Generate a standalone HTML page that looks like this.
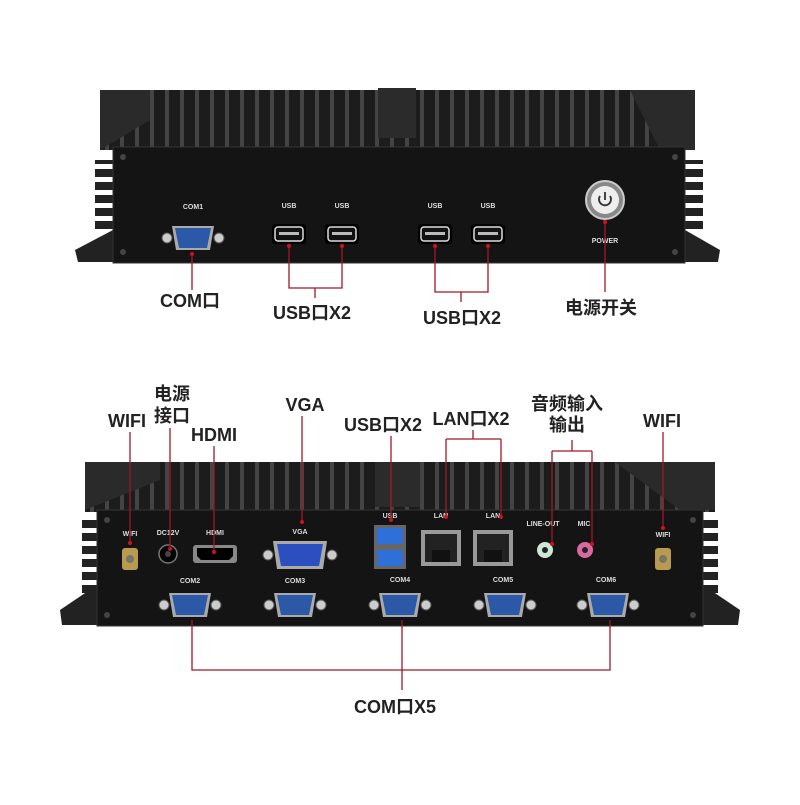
<!DOCTYPE html>
<html><head><meta charset="utf-8"><style>
body{margin:0;background:#fff;}
svg text{font-family:"Liberation Sans","Noto Sans CJK SC",sans-serif;}
.lb{font-size:18px;font-weight:bold;fill:#222;text-anchor:middle;}
.sm{font-size:7px;font-weight:bold;fill:#ddd;text-anchor:middle;}
.r{stroke:#a01828;stroke-width:1.3;fill:none;}
.d{fill:#d01020;}
</style></head><body>
<svg width="800" height="800" viewBox="0 0 800 800" xmlns="http://www.w3.org/2000/svg">
<defs>
<pattern id="fin" width="15" height="60" patternUnits="userSpaceOnUse">
<rect width="15" height="60" fill="#1c1c1c"/><rect x="0" width="4" height="60" fill="#444"/>
</pattern>
<pattern id="sfin" width="20" height="13" patternUnits="userSpaceOnUse">
<rect width="20" height="13" fill="#fff"/><rect y="0" width="20" height="8" fill="#222"/>
</pattern>
<g id="db9">
<circle cx="-26" cy="0" r="5" fill="#ccc" stroke="#555"/><circle cx="26" cy="0" r="5" fill="#ccc" stroke="#555"/>
<path d="M-21,-12 H21 L17,12 H-17 Z" fill="#aaa"/>
<path d="M-18,-10 H18 L14,10 H-14 Z" fill="#2c58a8"/>
</g>
<g id="usb"><rect x="-17" y="-10" width="34" height="20" rx="3" fill="#000"/><rect x="-14" y="-7" width="28" height="14" rx="3" fill="#111" stroke="#ddd" stroke-width="1.5"/><rect x="-10" y="-2" width="20" height="3" fill="#bbb"/></g>
</defs>

<!-- TOP DEVICE -->
<rect x="95" y="160" width="18" height="70" fill="url(#sfin)"/>
<rect x="685" y="160" width="18" height="70" fill="url(#sfin)"/>
<path d="M75,250 L113,230 L113,262 L78,262 Z" fill="#222"/>
<path d="M720,250 L685,230 L685,262 L718,262 Z" fill="#222"/>
<rect x="100" y="90" width="595" height="60" fill="url(#fin)"/>
<path d="M100,90 L150,90 L150,120 L100,150Z" fill="#2a2a2a"/>
<path d="M630,90 L695,90 L695,150 L660,150Z" fill="#2a2a2a"/>
<rect x="378" y="88" width="38" height="50" fill="#2b2b2b"/>
<rect x="113" y="147" width="572" height="116" fill="#141414" stroke="#333"/>
<circle cx="123" cy="157" r="3" fill="#444"/><circle cx="675" cy="157" r="3" fill="#444"/>
<circle cx="123" cy="252" r="3" fill="#444"/><circle cx="675" cy="252" r="3" fill="#444"/>
<text class="sm" x="193" y="209">COM1</text>
<use href="#db9" x="193" y="238"/>
<text class="sm" x="289" y="208">USB</text><text class="sm" x="342" y="208">USB</text>
<text class="sm" x="435" y="208">USB</text><text class="sm" x="488" y="208">USB</text>
<use href="#usb" x="289" y="234"/><use href="#usb" x="342" y="234"/>
<use href="#usb" x="435" y="234"/><use href="#usb" x="488" y="234"/>
<circle cx="605" cy="200" r="19" fill="#888" stroke="#ccc" stroke-width="2"/>
<circle cx="605" cy="200" r="14" fill="#eee"/>
<path d="M600,196 A6,6 0 1 0 610,196" stroke="#333" stroke-width="1.8" fill="none"/><line x1="605" y1="192" x2="605" y2="200" stroke="#333" stroke-width="1.8"/>
<text class="sm" x="605" y="243">POWER</text>
<!-- top lines -->
<path class="r" d="M192,254 V290"/>
<path class="r" d="M289,246 V288 H342 V246 M315,288 V298"/>
<path class="r" d="M435,246 V292 H488 V246 M461,292 V302"/>
<path class="r" d="M605,220 V292"/>
<circle class="d" cx="192" cy="254" r="2"/><circle class="d" cx="289" cy="246" r="2"/><circle class="d" cx="342" cy="246" r="2"/>
<circle class="d" cx="435" cy="246" r="2"/><circle class="d" cx="488" cy="246" r="2"/><circle class="d" cx="605" cy="222" r="2"/>
<text class="lb" x="190" y="307">COM口</text>
<text class="lb" x="312" y="319">USB口X2</text>
<text class="lb" x="462" y="324">USB口X2</text>
<text class="lb" x="601" y="314">电源开关</text>

<!-- BOTTOM DEVICE -->
<rect x="82" y="520" width="18" height="80" fill="url(#sfin)"/>
<rect x="700" y="520" width="18" height="80" fill="url(#sfin)"/>
<path d="M60,610 L97,585 L97,625 L62,625 Z" fill="#222"/>
<path d="M740,610 L703,585 L703,625 L738,625 Z" fill="#222"/>
<rect x="85" y="462" width="630" height="50" fill="url(#fin)"/>
<path d="M85,462 L160,462 L160,480 L85,510Z" fill="#2a2a2a"/>
<path d="M615,462 L715,462 L715,510 L680,510Z" fill="#2a2a2a"/>
<rect x="375" y="462" width="45" height="45" fill="#2b2b2b"/>
<rect x="97" y="510" width="606" height="116" fill="#141414" stroke="#333"/>
<circle cx="107" cy="520" r="3" fill="#444"/><circle cx="693" cy="520" r="3" fill="#444"/>
<circle cx="107" cy="615" r="3" fill="#444"/><circle cx="693" cy="615" r="3" fill="#444"/>
<text class="sm" x="130" y="536">WIFI</text><text class="sm" x="168" y="535">DC12V</text>
<text class="sm" x="215" y="535">HDMI</text><text class="sm" x="300" y="534">VGA</text>
<text class="sm" x="390" y="518">USB</text><text class="sm" x="441" y="518">LAN</text><text class="sm" x="493" y="518">LAN</text>
<text class="sm" x="543" y="526">LINE-OUT</text><text class="sm" x="584" y="526">MIC</text><text class="sm" x="663" y="537">WIFI</text>
<rect x="122" y="548" width="16" height="22" rx="3" fill="#b89a50"/><circle cx="130" cy="559" r="4" fill="#776"/>
<rect x="655" y="548" width="16" height="22" rx="3" fill="#b89a50"/><circle cx="663" cy="559" r="4" fill="#776"/>
<circle cx="168" cy="554" r="9" fill="#000" stroke="#777" stroke-width="1.5"/><circle cx="168" cy="554" r="3" fill="#444"/>
<rect x="193" y="545" width="44" height="18" rx="3" fill="#888"/><path d="M197,548 H233 V556 L229,560 H201 L197,556Z" fill="#000"/>
<circle cx="268" cy="555" r="5" fill="#ccc" stroke="#555"/><circle cx="332" cy="555" r="5" fill="#ccc" stroke="#555"/>
<path d="M273,541 H327 L323,569 H277Z" fill="#aaa"/><path d="M277,544 H323 L319,566 H281Z" fill="#2c4fc0"/>
<rect x="374" y="525" width="32" height="44" fill="#666"/><rect x="377" y="528" width="26" height="16" fill="#2f6fd8"/><rect x="377" y="550" width="26" height="16" fill="#2f6fd8"/>
<rect x="421" y="530" width="40" height="36" fill="#999"/><rect x="425" y="534" width="32" height="28" fill="#222"/><rect x="432" y="550" width="18" height="12" fill="#111"/>
<rect x="473" y="530" width="40" height="36" fill="#999"/><rect x="477" y="534" width="32" height="28" fill="#222"/><rect x="484" y="550" width="18" height="12" fill="#111"/>
<circle cx="545" cy="550" r="8" fill="#cde9d6"/><circle cx="545" cy="550" r="3" fill="#222"/>
<circle cx="585" cy="550" r="8" fill="#d86aa0"/><circle cx="585" cy="550" r="3" fill="#222"/>
<text class="sm" x="190" y="583">COM2</text><text class="sm" x="295" y="583">COM3</text><text class="sm" x="400" y="582">COM4</text><text class="sm" x="503" y="582">COM5</text><text class="sm" x="606" y="582">COM6</text>
<use href="#db9" x="190" y="605"/><use href="#db9" x="295" y="605"/><use href="#db9" x="400" y="605"/><use href="#db9" x="505" y="605"/><use href="#db9" x="608" y="605"/>
<!-- bottom lines -->
<path class="r" d="M130,432 V543 M170,428 V550 M214,446 V552 M302,416 V522 M391,436 V520 M446,439 V517 M501,439 H446 M501,439 V517 M473,439 V430 M552,451 H592 M552,451 V545 M592,451 V545 M572,451 V440 M663,432 V528"/>
<circle class="d" cx="130" cy="543" r="2"/><circle class="d" cx="170" cy="549" r="2"/><circle class="d" cx="214" cy="552" r="2"/><circle class="d" cx="302" cy="522" r="2"/>
<circle class="d" cx="391" cy="520" r="2"/><circle class="d" cx="446" cy="517" r="2"/><circle class="d" cx="501" cy="517" r="2"/>
<circle class="d" cx="552" cy="544" r="2"/><circle class="d" cx="592" cy="544" r="2"/><circle class="d" cx="663" cy="528" r="2"/>
<path class="r" d="M192,620 V670 H610 V620 M402,620 V690"/>
<text class="lb" x="127" y="427">WIFI</text>
<text class="lb" x="172" y="400">电源</text><text class="lb" x="172" y="422">接口</text>
<text class="lb" x="214" y="441">HDMI</text>
<text class="lb" x="305" y="411">VGA</text>
<text class="lb" x="383" y="431">USB口X2</text>
<text class="lb" x="471" y="425">LAN口X2</text>
<text class="lb" x="567" y="410">音频输入</text><text class="lb" x="567" y="431">输出</text>
<text class="lb" x="662" y="427">WIFI</text>
<text class="lb" x="395" y="713">COM口X5</text>
</svg>
</body></html>
